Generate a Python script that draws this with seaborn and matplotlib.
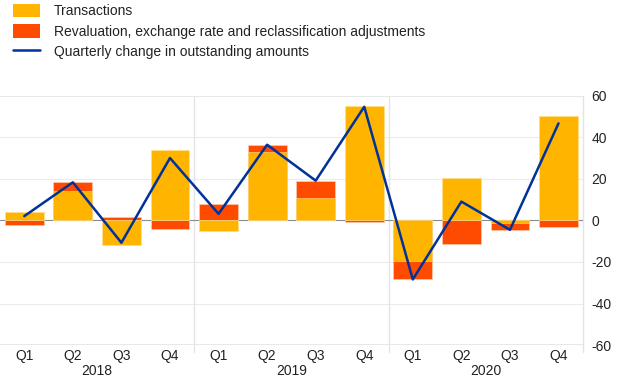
import numpy as np
import pandas as pd
import seaborn as sns
import matplotlib.pyplot as plt
from matplotlib.patches import Patch
from matplotlib.lines import Line2D

# values (EUR billions)
quarters = ["Q1", "Q2", "Q3", "Q4"] * 3
years = ["2018", "2019", "2020"]
transactions = [4.0, 14.4, -12.0, 34.1, -5.0, 32.9, 10.7, 55.0, -19.6, 20.4, -1.1, 50.2]
revaluation = [-2.0, 4.0, 1.6, -4.2, 8.0, 3.5, 8.5, -0.5, -8.4, -11.1, -3.4, -3.2]
change = [2.1, 18.4, -10.7, 30.1, 3.2, 36.5, 19.2, 54.8, -28.4, 9.1, -4.5, 46.8]

YELLOW = "#FFB400"
ORANGE = "#FF4B00"
BLUE = "#003299"

sns.set_style("white")
plt.rcParams["font.family"] = ["Liberation Sans", "DejaVu Sans"]
plt.rcParams["axes.unicode_minus"] = False

df = pd.DataFrame({"pos": np.arange(12), "trans": transactions, "reval": revaluation})
# red bar drawn from zero to its stacked end, yellow drawn over it
same_sign = np.sign(df["trans"]) == np.sign(df["reval"])
df["red_end"] = df["reval"] + np.where(same_sign, df["trans"], 0)

fig = plt.figure(figsize=(6.2, 3.87), dpi=100)
ax = fig.add_axes([0.0, 0.1085, 0.94, 0.6435])

for y in [-40, -20, 20, 40]:
    ax.axhline(y, color="#ececec", lw=0.8, zorder=0)
ax.axhline(60, color="#e4e4e4", lw=1.2, zorder=0)
ax.axhline(-60, color="#e4e4e4", lw=1.2, zorder=0)
ax.axhline(0, color="#8c8c8c", lw=0.8, zorder=1)

sns.barplot(data=df, x="pos", y="red_end", color=ORANGE, width=0.8,
            saturation=1, edgecolor="#ffd0b0", linewidth=0.4, ax=ax, zorder=2)
sns.barplot(data=df, x="pos", y="trans", color=YELLOW, width=0.8,
            saturation=1, edgecolor="#ffe08a", linewidth=0.4, ax=ax, zorder=3)
sns.lineplot(x=np.arange(12), y=change, color=BLUE, lw=1.8, ax=ax, zorder=5)

ax.set_xlim(-0.5, 11.5)
ax.set_ylim(-60, 60)
ax.set_xlabel("")
ax.set_ylabel("")
for s in ax.spines.values():
    s.set_visible(False)

# year separators reaching into the label area
for xs in [3.5, 7.5, 11.5]:
    ax.plot([xs, xs], [-63.5, 60], color="#e4e4e4", lw=1, clip_on=False, zorder=0)

ax.yaxis.tick_right()
ax.set_yticks([-60, -40, -20, 0, 20, 40, 60])
ax.tick_params(axis="y", length=0, pad=6, labelsize=10, labelcolor="#222222")
ax.set_xticks(np.arange(12))
ax.set_xticklabels(quarters)
ax.tick_params(axis="x", length=0, pad=3, labelsize=10, labelcolor="#222222")

for i, yr in enumerate(years):
    ax.text(4 * i + 1.5, -0.078, yr, transform=ax.get_xaxis_transform(),
            ha="center", va="top", fontsize=10, color="#222222")

handles = [
    Patch(facecolor=YELLOW, edgecolor="none"),
    Patch(facecolor=ORANGE, edgecolor="none"),
    Line2D([0], [0], color=BLUE, lw=1.8),
]
labels = [
    "Transactions",
    "Revaluation, exchange rate and reclassification adjustments",
    "Quarterly change in outstanding amounts",
]
fig.legend(handles, labels, loc="upper left", bbox_to_anchor=(0.0, 1.022),
           frameon=False, fontsize=10, handlelength=2.0, handleheight=1.1,
           handletextpad=1.0, labelspacing=0.42, labelcolor="#222222")

fig.savefig("out.png", dpi=100)
